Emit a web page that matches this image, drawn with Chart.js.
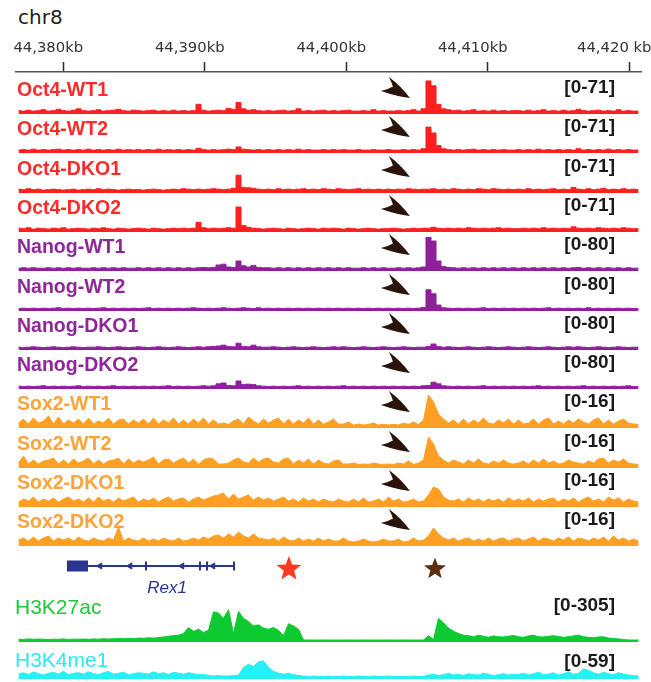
<!DOCTYPE html>
<html><head><meta charset="utf-8">
<script src="https://cdn.jsdelivr.net/npm/chart.js@4/dist/chart.umd.min.js"></script>
<style>
html,body{margin:0;padding:0;background:#fff;}
#wrap{position:relative;width:651px;height:682px;overflow:hidden;background:#fff;}
#wrap canvas{position:absolute;left:0;}
#wrap .t{position:absolute;white-space:nowrap;}
</style></head><body><div id="wrap"></div>
<script>
// ---------------- data ----------------
const CHROM = 'chr8';
const MIN_KB = 44376.66, MAX_KB = 44420.83;
const TICK_KB = [44380, 44390, 44400, 44410, 44420];
const TICK_LABELS = ['44,380kb', '44,390kb', '44,400kb', '44,410kb', '44,420 kb'];
const N_BINS = 125;
const BIN_STEP_KB = (MAX_KB - MIN_KB) / N_BINS;
const BIN_KB = Array.from({length: N_BINS}, (_, i) => +(MIN_KB + BIN_STEP_KB * (i + 0.5)).toFixed(3));

const TRACK_NAMES = ['Oct4-WT1','Oct4-WT2','Oct4-DKO1','Oct4-DKO2','Nanog-WT1','Nanog-WT2','Nanog-DKO1','Nanog-DKO2','Sox2-WT1','Sox2-WT2','Sox2-DKO1','Sox2-DKO2'];
const TRACK_MAX = [71,71,71,71,80,80,80,80,16,16,16,16];
const TRACK_RANGES = ['[0-71]','[0-71]','[0-71]','[0-71]','[0-80]','[0-80]','[0-80]','[0-80]','[0-16]','[0-16]','[0-16]','[0-16]'];

const OCT4_WT1 = [
3,2,4,2,3,5,2,3,6,3,2,4,7,3,2,3,5,2,3,4,6,3,2,4,3,
2,3,4,2,3,2,4,2,3,2,3,17,4,2,3,4,3,8,6,21,7,4,5,3,2,
3,2,3,4,2,3,7,2,3,2,3,4,2,3,2,3,4,2,2,3,2,5,2,3,2,
2,3,2,3,5,2,7,69,58,17,7,5,3,4,2,3,5,2,3,2,4,2,3,2,3,
3,2,4,2,3,5,2,3,2,4,2,3,6,3,2,3,4,2,3,2,5,2,3,2,2];
const OCT4_WT2 = [
2,3,2,4,2,3,2,3,4,2,3,2,3,2,4,2,3,2,3,2,4,2,3,2,3,
2,3,2,4,2,3,2,3,2,3,2,6,3,2,3,2,3,4,3,9,4,3,2,3,2,
3,2,3,2,3,2,4,2,3,2,2,3,2,3,2,3,2,2,3,2,2,3,2,2,3,
2,2,3,2,3,2,5,53,40,12,5,3,2,3,2,3,4,2,3,2,3,2,3,2,2,
3,2,3,2,4,2,3,2,3,2,3,2,5,2,3,2,3,2,4,2,3,2,3,2,2];
const OCT4_DKO1 = [
4,3,5,3,4,2,3,4,3,2,3,4,2,3,4,3,5,3,4,3,2,3,4,3,3,
2,3,4,3,2,3,4,3,5,4,3,4,3,4,5,4,3,4,6,35,8,7,6,4,3,
4,3,5,3,4,3,4,5,3,4,3,5,4,3,5,4,3,4,5,3,4,3,4,3,4,
3,4,3,5,4,3,4,4,5,3,4,3,5,4,3,4,3,5,4,3,5,4,3,4,3,
4,3,5,3,4,3,4,5,3,4,3,8,4,3,5,3,4,6,3,4,3,5,3,4,3];
const OCT4_DKO2 = [
4,3,5,2,4,3,2,4,3,5,2,3,4,3,2,4,3,5,3,2,4,3,2,3,4,
3,2,4,3,2,3,4,3,4,3,4,17,5,3,4,3,4,5,4,51,10,6,4,3,2,
3,4,3,2,4,3,2,3,4,3,2,4,3,4,3,2,4,3,2,3,4,3,2,3,3,
4,3,2,3,4,3,4,4,6,4,3,4,3,4,3,5,4,3,4,3,4,5,3,4,3,
3,4,3,4,3,5,3,4,3,4,3,7,4,3,4,3,5,4,3,4,3,5,4,3,3];

const NANOG_WT1 = [
2,3,2,3,2,2,3,2,3,2,3,2,3,2,2,3,2,3,2,3,2,3,2,2,3,
2,3,2,3,2,3,2,3,2,3,2,3,4,3,4,10,12,5,4,20,8,5,9,4,3,
3,2,3,2,3,2,3,2,3,2,3,2,3,2,3,2,3,2,2,3,2,3,2,3,2,
2,3,2,3,2,3,5,80,70,20,6,4,3,2,3,2,3,2,3,2,3,2,3,2,3,
2,3,2,3,2,3,2,3,2,3,2,3,4,2,3,2,3,2,3,2,3,2,3,2,2];
const NANOG_WT2 = [
1,2,1,2,1,2,1,2,3,1,2,1,2,1,2,1,2,3,1,2,1,2,1,2,1,
2,3,1,2,1,2,1,2,1,2,3,2,1,2,1,2,3,2,1,2,3,2,1,3,1,
2,1,2,1,2,1,2,1,2,1,2,1,2,1,2,1,2,1,2,1,2,1,2,1,2,
1,2,1,2,1,2,4,48,38,10,3,2,1,2,1,2,1,2,3,1,2,1,2,1,2,
1,2,1,2,1,2,3,1,2,1,2,1,2,1,3,1,2,1,2,1,2,1,2,1,1];
const NANOG_DKO1 = [
2,1,2,3,2,1,2,3,2,1,2,3,2,1,2,2,3,2,1,2,3,2,1,2,3,
2,1,2,3,2,1,2,3,2,1,2,3,2,3,4,5,7,4,3,12,4,3,7,3,2,
2,3,2,1,2,3,2,1,2,3,2,1,2,3,2,3,2,1,2,3,2,1,2,3,2,
1,2,3,2,1,2,2,4,10,4,2,3,2,1,2,3,2,1,2,3,2,1,2,3,2,
1,2,3,2,1,2,3,2,1,2,3,2,3,2,1,2,3,2,1,2,3,2,1,2,2];
const NANOG_DKO2 = [
2,1,2,1,2,3,1,2,1,2,1,2,3,1,2,1,2,1,2,3,1,2,1,2,1,
2,1,2,1,2,3,1,2,1,2,1,2,3,2,3,8,10,4,3,15,6,7,6,3,2,
1,2,1,2,1,2,3,1,2,1,2,1,2,1,2,3,1,2,1,2,1,2,1,2,1,
2,1,2,1,2,1,3,4,12,8,3,2,1,2,1,2,1,2,3,1,2,1,2,1,2,
1,2,1,2,3,1,2,1,2,1,2,1,2,3,1,2,1,2,1,2,1,2,3,1,1];

const SOX2_WT1 = [
1.5,3.5,1,4,1.5,2.5,5,1,4.5,1,3,1.5,3.5,1,4,1,2.5,1.5,4,1,3,3.5,1,3,1.5,
3.5,1,4,1,3,1.5,4,1,3,1,3.5,1.5,4,1,3,1,1.5,0.8,2.5,3.5,1,4.5,2.5,1,3.5,
1.5,3,4,1,3.5,1,3,1.5,4,1,3,1,2,3.5,1,1,2,0.5,1,0.5,0.8,1.5,0.5,0.8,0.5,
0.8,0.5,1.5,0.8,2,0.8,3,15.5,12,6,3.5,1.5,3,1,3.5,1,3,1.5,4,1.5,1,3,1.5,3.5,1,
3,1,1.5,3.5,1,3,4,1,2.5,1,3,1.5,3.5,2,1,3,4,1,3,1,2.5,3.5,1.5,1,0.8];
const SOX2_WT2 = [
1.5,5,1,3,1,2.5,3,4,1,3,1,3.5,1.5,2.5,4,1,3,1,2.5,3,4,1,3.5,1.5,3,
2,3,4.5,1,3,3.5,1.5,3,4,1.5,3.5,1,3,4,3.5,1,1,1.5,3,4,2,1.5,4,2,3.5,
4,2,1.5,3.5,4,1,3,1.5,3.5,1,3,1.5,1,2.5,3,1,1,1.5,0.8,1,0.8,1.5,1,0.8,1,
0.8,1.5,1,2.5,0.8,1.5,3,14.5,11,5,3,1.5,3,2,1,3,1.5,3.5,1.5,1,2.5,1.5,3,1.5,1,
1.5,2.5,1,3,1.5,3.5,1.5,2.5,1,1.5,3,2,1.5,1,2.5,1.5,3.5,4,1.5,3,2,3.5,1.5,1,0.8];
const SOX2_DKO1 = [
1.5,3,2,4,1.5,3,2,3.5,1.5,3,4,2,3,1.5,3.5,1.5,4,2,3,1.5,3.5,2,3,4,1.5,
3,2,3.5,1.5,3,4,2,3,3.5,1.5,3,4,2.5,3.5,4.5,5,6,3,5.5,3,4,5,2.5,4,2.5,
3.5,2,3,4,2,3,1.5,3.5,2,3,1.5,3,2,1.5,3,2,1.5,3,1.5,3.5,1.5,2,3,1.5,4,
2,3,1.5,2,3,1.5,2,5,9,8,4,2.5,2,3,1.5,3.5,2,3,1.5,3,2,3,1.5,3.5,2,
3,2,3.5,1.5,3,2,3,3.5,1.5,3,2,3.5,1.5,3,4,2,3,1.5,4,2.5,3.5,1.5,3,2,1.5];
const SOX2_DKO2 = [
2,3,1.5,3.5,1.5,3,4,1.5,3,2,3,1.5,3.5,2,1.5,3,2,1.5,3,2,8.5,1.5,3,2,1.5,
3,1.5,2.5,1.5,3,2,1.5,3,1.5,2,3,2,3.5,2.5,4,4.5,3,5,3.5,6,4,3,5,3,2.5,
2,3,1.5,3.5,2,1.5,3,1.5,2.5,1.5,3,1.5,2.5,1.5,1.5,3,1.5,1,1.5,2.5,1.5,1,1.5,2.5,1.5,
1.5,2.5,1,1.5,3,1.5,2,4,8,5,3,2,3,1.5,2.5,3,1.5,2.5,1.5,3,1.5,2.5,3,1.5,2.5,
3,1.5,2.5,3.5,1.5,3,2.5,1.5,3,2,3.5,1.5,3,2.5,1.5,3,2,3.5,1.5,4,2,3,1.5,2.5,1.5];

const H3K27AC = [
8,5,10,6,9,7,4,8,6,10,5,8,7,9,6,10,8,12,9,11,14,12,16,13,18,
16,20,18,22,28,35,40,45,60,115,80,100,70,90,260,250,200,280,60,265,200,170,130,140,110,
100,115,90,40,150,130,100,0,0,0,0,0,0,0,0,0,0,0,0,0,0,0,0,0,0,
0,0,0,0,0,0,0,40,5,200,160,110,80,60,45,40,30,45,35,25,38,30,28,35,42,
30,25,38,45,30,28,35,40,32,25,30,38,45,30,25,20,28,30,18,15,10,5,0,0,0];
const H3K4ME1 = [
6,9,5,11,7,4,8,10,6,12,5,8,9,6,11,7,5,9,12,6,8,10,5,7,9,
8,6,11,7,9,5,10,8,6,9,7,5,6,3,2,3,2,2,3,4,20,27,22,32,34,
20,12,8,6,8,5,3,2,1,2,1,1,2,1,1,2,1,1,2,1,1,2,1,1,2,
1,1,1,1,2,1,1,4,6,3,5,8,4,6,3,7,5,4,8,6,3,5,7,4,6,
5,8,4,7,10,5,6,9,4,7,11,6,8,17,14,9,6,10,7,5,9,6,4,3,2];

const TRACK_DATA = [OCT4_WT1, OCT4_WT2, OCT4_DKO1, OCT4_DKO2, NANOG_WT1, NANOG_WT2, NANOG_DKO1, NANOG_DKO2, SOX2_WT1, SOX2_WT2, SOX2_DKO1, SOX2_DKO2];

const ARROW_KB = 44404.5;
const GENE_NAME = 'Rex1';
const GENE_UTR_KB = [44380.26, 44381.75];
const GENE_SPAN_KB = [44381.75, 44392.07];
const GENE_EXON_KB = [44385.85, 44389.66, 44390.16, 44392.07];
const GENE_STRAND_KB = [44382.6, 44384.72, 44388.39, 44390.58];
const STAR_KB = [44395.95, 44406.27];

// ---------------- styles / layout ----------------
const W = 651, PAD_L = 16, PAD_R = 10;
const OCT4_C = '#ff1f1f', NANOG_C = '#8f1f9a', SOX2_C = '#ffa024';
const GROUP_COLORS = [OCT4_C,OCT4_C,OCT4_C,OCT4_C,NANOG_C,NANOG_C,NANOG_C,NANOG_C,SOX2_C,SOX2_C,SOX2_C,SOX2_C];
const LABEL_COLORS = ['#ff2a2a','#ff2a2a','#ff2a2a','#ff2a2a','#8f2699','#8f2699','#8f2699','#8f2699','#fca33a','#fca33a','#fca33a','#fca33a'];
const TRACK_STEPPED = [true,true,true,true,true,true,true,true,false,false,false,false];
const K27_C = '#0dca30', K4_C = '#24f0f6';
const NAVY = '#28348f', ARROW_C = '#2a140a';
const STAR_COLORS = ['#ff3a1e', '#5b2e0e'];
const STAR_R = [13, 11.5];
const SANS = '"Liberation Sans", Arial, sans-serif';
const DEJA = '"DejaVu Sans", sans-serif';
const wrap = document.getElementById('wrap');

function addText(txt, x, base, size, weight, style, family, color, align) {
  const d = document.createElement('div');
  d.className = 't';
  d.textContent = txt;
  d.style.fontSize = size + 'px';
  d.style.lineHeight = size + 'px';
  d.style.fontFamily = family;
  d.style.fontWeight = weight;
  d.style.fontStyle = style;
  d.style.color = color;
  d.style.top = (base - 0.846 * size) + 'px';
  if (align === 'right') d.style.right = (W - x) + 'px';
  else if (align === 'center') { d.style.left = x + 'px'; d.style.transform = 'translateX(-50%)'; }
  else d.style.left = x + 'px';
  wrap.appendChild(d);
}
function addCanvas(top, h) {
  const c = document.createElement('canvas');
  c.width = W; c.height = h;
  c.style.top = top + 'px';
  c.style.width = W + 'px'; c.style.height = h + 'px';
  wrap.appendChild(c);
  return c;
}
const baseOpts = () => ({
  responsive: false, animation: false, events: [],
  plugins: { legend: { display: false }, tooltip: { enabled: false }, title: { display: false } }
});

const arrowPlugin = {
  id: 'arrowMark',
  afterDraw(chart, args, opts) {
    if (!opts || !opts.show) return;
    const ctx = chart.ctx;
    const x = chart.scales.x.getPixelForValue(ARROW_KB);
    const y = chart.scales.y.getPixelForValue(0) - 14;
    ctx.save();
    ctx.fillStyle = ARROW_C;
    ctx.beginPath();
    ctx.moveTo(x, y);
    ctx.quadraticCurveTo(x - 9, y - 12, x - 21, y - 21);
    ctx.quadraticCurveTo(x - 18, y - 15, x - 17, y - 11.5);
    ctx.quadraticCurveTo(x - 22, y - 8.5, x - 29, y - 7);
    ctx.quadraticCurveTo(x - 13, y - 1.5, x, y);
    ctx.closePath();
    ctx.fill();
    ctx.restore();
  }
};

function makeTrack(values, max, color, base, full, extra, arrow, stepped) {
  const band = 2;
  const top = base - band / 2 - full - extra;
  const h = full + band + extra;
  const c = addCanvas(top, h);
  const o = baseOpts();
  o.layout = { padding: { left: PAD_L, right: PAD_R, top: extra, bottom: 0 } };
  o.scales = {
    x: { type: 'linear', min: MIN_KB, max: MAX_KB, display: false },
    y: { type: 'linear', min: -max * band / full, max: max, display: false }
  };
  o.plugins.arrowMark = { show: arrow };
  new Chart(c, {
    type: 'line',
    data: { labels: BIN_KB, datasets: [{
      data: values, fill: 'start', backgroundColor: color, borderColor: color,
      borderWidth: 1, pointRadius: 0, tension: 0, stepped: stepped ? 'middle' : false
    }]},
    options: o,
    plugins: [arrowPlugin]
  });
}

// ---------------- top axis ----------------
addText(CHROM, 18, 24, 20, 'normal', 'normal', DEJA, '#222', 'left');
(function () {
  const c = addCanvas(0, 80);
  const o = baseOpts();
  o.layout = { padding: { left: PAD_L, right: PAD_R, top: 37, bottom: 0 } };
  o.scales = {
    x: {
      type: 'linear', position: 'top', min: MIN_KB, max: MAX_KB,
      afterBuildTicks: s => { s.ticks = TICK_KB.map(v => ({ value: v })); },
      afterFit: s => { s.height = 35; s.paddingLeft = 0; s.paddingRight = 0; },
      ticks: { autoSkip: false, maxRotation: 0, padding: 4.5, labelOffset: -15,
        color: '#333', font: { family: DEJA, size: 14.8 },
        callback: (v, i) => TICK_LABELS[i] },
      grid: { display: true, drawOnChartArea: false, drawTicks: true, tickLength: 10,
        tickColor: '#3a2424', tickWidth: 1.5, color: '#3a2424' },
      border: { display: true, color: '#555', width: 1.5 }
    },
    y: { display: false, min: 0, max: 1 }
  };
  new Chart(c, { type: 'line', data: { datasets: [] }, options: o });
})();

// ---------------- ChIP tracks ----------------
const TRACK_BASE0 = 113, TRACK_STEP = 39.3;
TRACK_NAMES.forEach((name, k) => {
  const base = Math.round(TRACK_BASE0 + TRACK_STEP * k);
  makeTrack(TRACK_DATA[k], TRACK_MAX[k], GROUP_COLORS[k], base, 32, 8, true, TRACK_STEPPED[k]);
  addText(name, 17, base - 17, 19.5, 'bold', 'normal', SANS, LABEL_COLORS[k], 'left');
  addText(TRACK_RANGES[k], 615, base - 20, 19, 'bold', 'normal', SANS, '#1a1a1a', 'right');
});

// ---------------- gene model ----------------
const starPlugin = {
  id: 'starMarks',
  afterDatasetsDraw(chart) {
    const ctx = chart.ctx;
    const y0 = chart.scales.y.getPixelForValue(0) + 3;
    STAR_KB.forEach((kb, i) => {
      const cx = chart.scales.x.getPixelForValue(kb);
      const R = STAR_R[i];
      ctx.save();
      ctx.fillStyle = STAR_COLORS[i];
      ctx.beginPath();
      for (let k = 0; k < 10; k++) {
        const r = k % 2 === 0 ? R : R * 0.42;
        const a = -Math.PI / 2 + k * Math.PI / 5;
        const px = cx + r * Math.cos(a), py = y0 + r * Math.sin(a);
        if (k === 0) ctx.moveTo(px, py); else ctx.lineTo(px, py);
      }
      ctx.closePath();
      ctx.fill();
      ctx.restore();
    });
  }
};
(function () {
  const c = addCanvas(548, 36);
  const o = baseOpts();
  o.layout = { padding: { left: PAD_L, right: PAD_R, top: 0, bottom: 0 } };
  o.scales = {
    x: { type: 'linear', min: MIN_KB, max: MAX_KB, display: false },
    y: { type: 'linear', min: -1, max: 1, display: false }
  };
  const row = xs => xs.map(x => ({ x, y: 0 }));
  new Chart(c, {
    type: 'scatter',
    data: { datasets: [
      { data: row(GENE_SPAN_KB), showLine: true, borderColor: NAVY, borderWidth: 2, pointRadius: 0 },
      { data: row(GENE_UTR_KB), showLine: true, borderColor: NAVY, borderWidth: 11, borderCapStyle: 'butt', pointRadius: 0 },
      { data: row(GENE_EXON_KB), pointStyle: 'line', rotation: 90, pointRadius: 4.5, borderWidth: 2, borderColor: NAVY },
      { data: row(GENE_STRAND_KB), pointStyle: 'triangle', rotation: 270, pointRadius: 3.5, borderWidth: 1, borderColor: NAVY, backgroundColor: NAVY }
    ]},
    options: o,
    plugins: [starPlugin]
  });
})();
addText(GENE_NAME, 167, 593, 17, 'normal', 'italic', SANS, NAVY, 'center');

// ---------------- histone tracks ----------------
makeTrack(H3K27AC, 305, K27_C, 641, 33, 4, false, false);
addText('H3K27ac', 15, 614, 21, 'normal', 'normal', SANS, '#1fc63a', 'left');
addText('[0-305]', 615, 611, 19, 'bold', 'normal', SANS, '#1a1a1a', 'right');
makeTrack(H3K4ME1, 59, K4_C, 678, 28, 4, false, false);
addText('H3K4me1', 15, 667, 21, 'normal', 'normal', SANS, '#2de8f2', 'left');
addText('[0-59]', 615, 667, 19, 'bold', 'normal', SANS, '#1a1a1a', 'right');
</script>
</body></html>
